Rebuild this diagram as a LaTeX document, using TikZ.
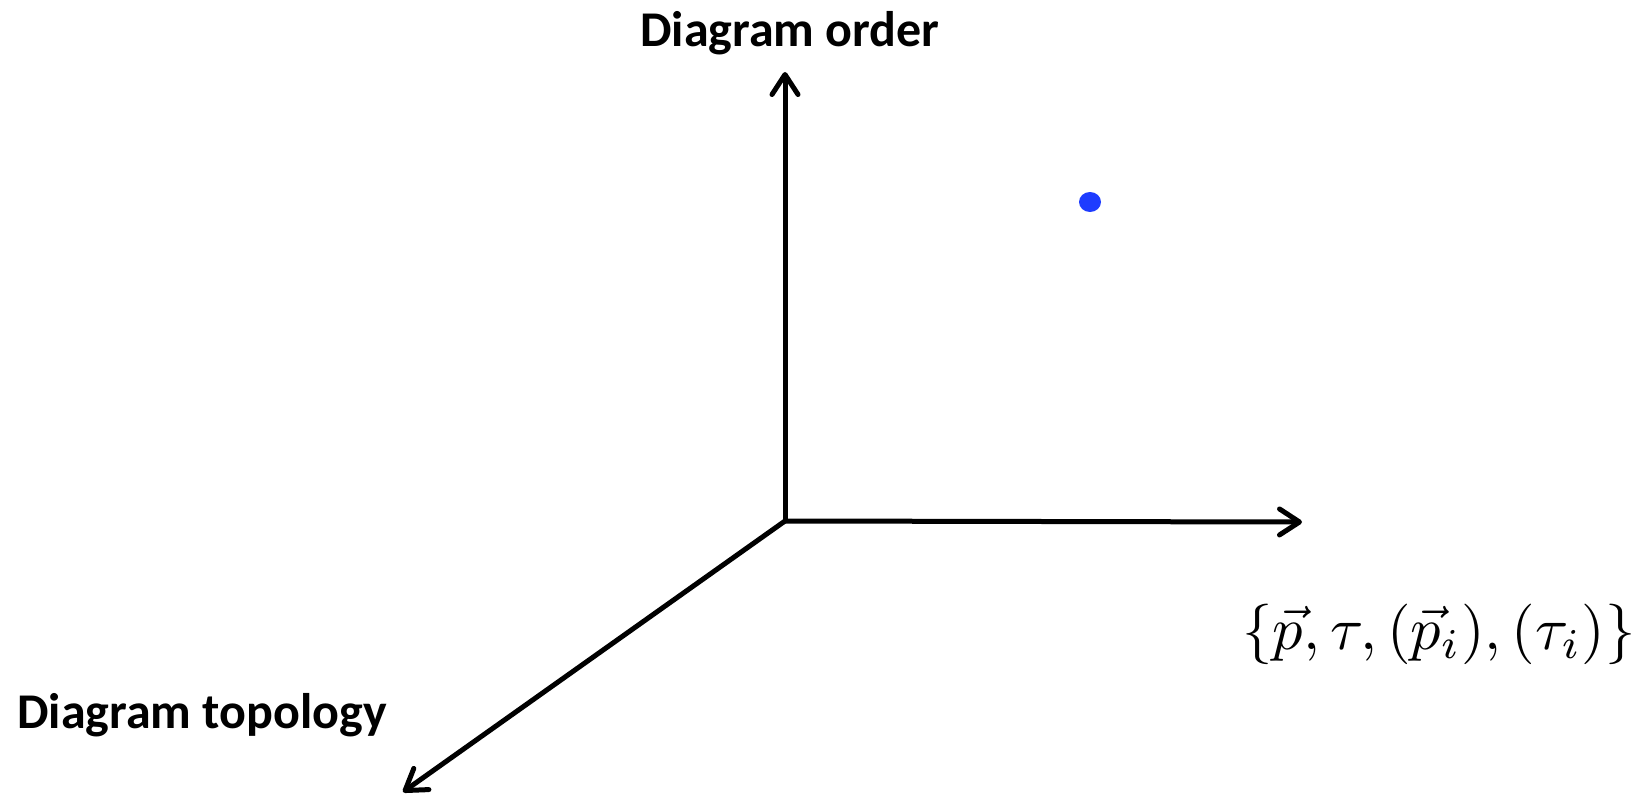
\documentclass[tikz,border=0pt]{standalone}
\usepackage{fontspec}
\usepackage{graphicx}
\newfontfamily\labelfont{Carlito}
\usetikzlibrary{arrows.meta}
\definecolor{dotblue}{RGB}{30,60,255}
\tikzset{
  axis/.style={line width=5pt, -{Straight Barb[length=20pt,width=26pt,line cap=round,line join=round]}},
  axlabel/.style={inner sep=0pt, font=\labelfont\bfseries\fontsize{50}{60}\selectfont},
  mathlabel/.style={inner sep=0pt}
}
\begin{document}
\begin{tikzpicture}[x=1pt,y=-1pt]
\useasboundingbox (0,0) rectangle (1644,797);
\coordinate (O) at (785,521);
\coordinate (up) at (785,72);
\coordinate (right) at (1302,522);
\coordinate (down) at (403,792);
\draw[axis] (O) -- (up);
\draw[axis] (O) -- (right);
\draw[axis] (O) -- (down);
\node[axlabel, anchor=base west] (order) at (640,47) {Diagram order};
\node[axlabel, anchor=base west] (topology) at (17,728) {Diagram topology};
\node[mathlabel, anchor=base] (params) at (1439,649) {\scalebox{6.05}{$\{\vec{p},\tau,(\vec{p}_i),(\tau_i)\}$}};
\fill[dotblue] (1090,202) ellipse [x radius=11, y radius=10];
\end{tikzpicture}
\end{document}
